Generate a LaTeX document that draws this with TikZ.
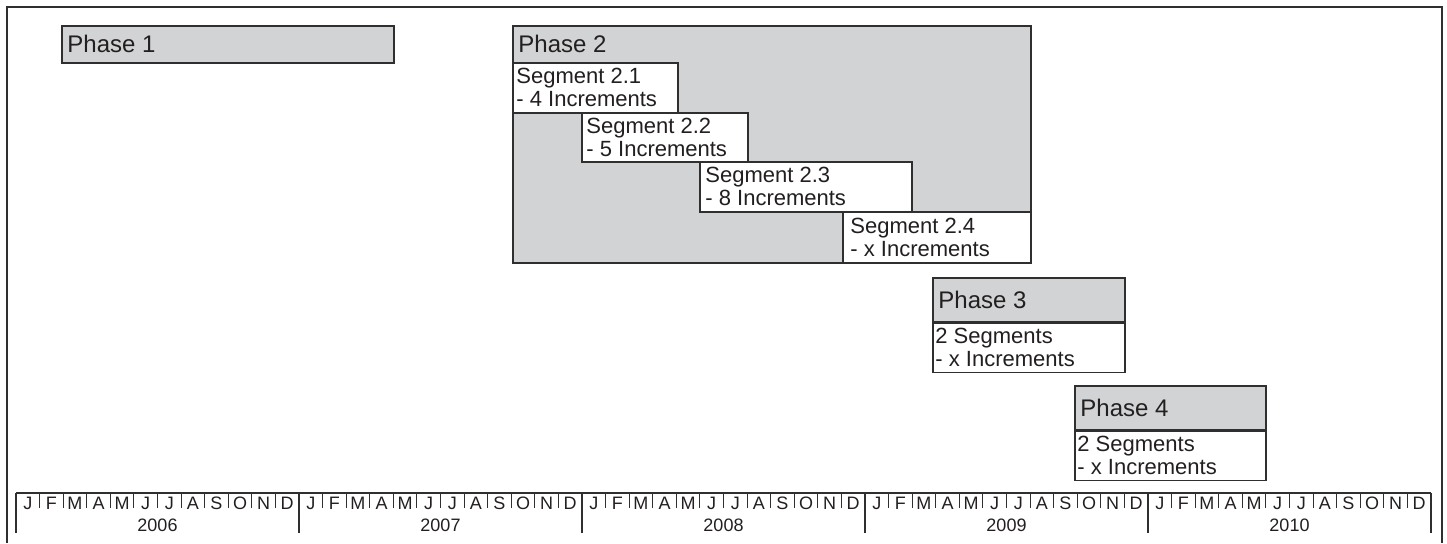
\documentclass[tikz,border=0pt]{standalone}
\usepackage{fontspec}
\setmainfont{Liberation Sans}
\usepackage{xcolor}
\usepackage{tikz}
\usetikzlibrary{positioning}
\definecolor{edge}{HTML}{2F2F2F}
\definecolor{phasefill}{HTML}{D1D3D4}
\definecolor{ink}{HTML}{231F20}
\tikzset{
  phasebox/.style={draw=edge,line width=0.75pt,fill=phasefill,inner sep=0pt,anchor=north west},
  segbox/.style={phasebox,fill=white},
  phasetxt/.style={inner sep=0pt,anchor=west,text=ink,font=\fontsize{12}{13}\selectfont},
  segtxt/.style={inner sep=0pt,anchor=west,align=left,text=ink,font=\fontsize{11}{11.5}\selectfont},
  monthtxt/.style={inner sep=0pt,text=ink,font=\fontsize{9}{10}\selectfont},
  yeartick/.style={draw=edge,line width=1.2pt},
  monthtick/.style={draw=edge,line width=0.5pt},
}
\begin{document}
\begin{tikzpicture}[x=0.5pt,y=-0.5pt]
  \useasboundingbox (0,0) rectangle (1447,543);
  % frame
  \draw[draw=edge,line width=0.6pt] (7,543) -- (7,7) -- (1442,7) -- (1442,543);
  % phase 1
  \node[phasebox,minimum width=166pt,minimum height=18.5pt] (ph1) at (61,25) {};
  \node[phasetxt,right=3pt of ph1.west] (ph1t) {Phase 1};
  % phase 2 with its segments
  \node[phasebox,minimum width=259pt,minimum height=118.5pt] (ph2) at (512,25) {};
  \node[phasetxt,right=3pt of ph2.north west,yshift=-9.25pt] (ph2t) {Phase 2};
  \node[segbox,minimum width=82.5pt,minimum height=25pt] (s21) at (512,62) {};
  \node[segtxt,right=2pt of s21.west] {Segment 2.1\\- 4 Increments};
  \node[segbox,minimum width=83pt,minimum height=24.5pt] (s22) at (581,112) {};
  \node[segtxt,right=2.5pt of s22.west] {Segment 2.2\\- 5 Increments};
  \node[segbox,minimum width=106pt,minimum height=25pt] (s23) at (699,161) {};
  \node[segtxt,right=3pt of s23.west] {Segment 2.3\\- 8 Increments};
  \node[segbox,minimum width=94pt,minimum height=25.5pt] (s24) at (842,211) {};
  \node[segtxt,right=4pt of s24.west] {Segment 2.4\\- x Increments};
  % phase 3
  \node[phasebox,minimum width=96pt,minimum height=22pt] (ph3) at (932,277) {};
  \node[phasetxt,right=3pt of ph3.west] {Phase 3};
  \node[segbox,minimum width=96pt,minimum height=24.5pt] (ph3b) at (ph3.south west) {};
  \node[segtxt,right=1.5pt of ph3b.west] {2 Segments\\- x Increments};
  % phase 4
  \node[phasebox,minimum width=95.5pt,minimum height=22pt] (ph4) at (1074,385) {};
  \node[phasetxt,right=3pt of ph4.west] {Phase 4};
  \node[segbox,minimum width=95.5pt,minimum height=24.5pt] (ph4b) at (ph4.south west) {};
  \node[segtxt,right=1.5pt of ph4b.west] {2 Segments\\- x Increments};
  % time scale
  \draw[yeartick] (16,493) -- (1431,493);
  \foreach \yr [count=\i from 0] in {2006,2007,2008,2009,2010}{
    \draw[yeartick] (16+283*\i,493) -- (16+283*\i,533);
    \node[monthtxt] at (157.5+283*\i,525) {\yr};
    \foreach \m [count=\j from 0] in {J,F,M,A,M,J,J,A,S,O,N,D}{
      \ifnum\j>0 \draw[monthtick] (16+283*\i+23.583*\j,493) -- (16+283*\i+23.583*\j,508);\fi
      \node[monthtxt] at (27.8+283*\i+23.583*\j,503.5) {\m};
    }
  }
  \draw[yeartick] (1431,493) -- (1431,533);
\end{tikzpicture}
\end{document}
